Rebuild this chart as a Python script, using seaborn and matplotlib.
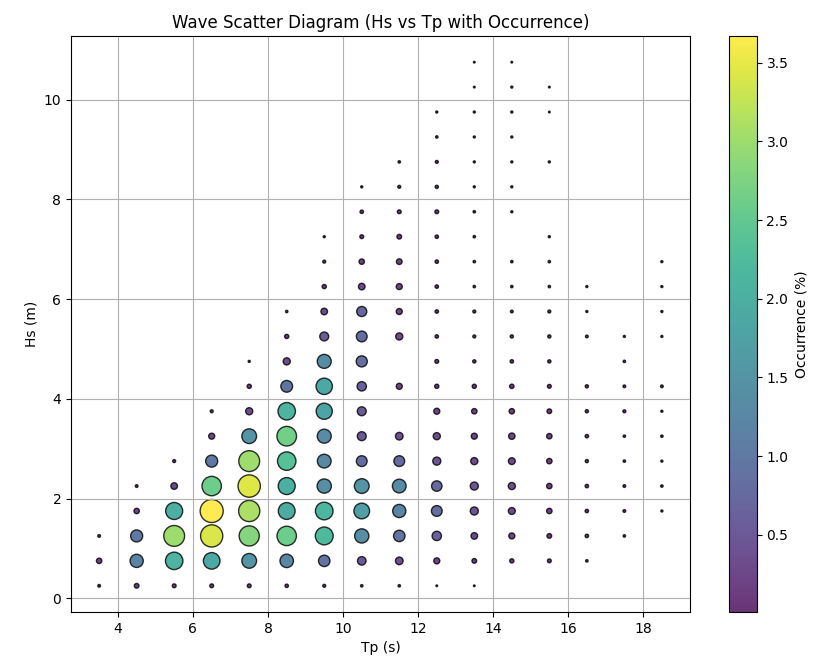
import numpy as np
import pandas as pd
import matplotlib
matplotlib.use("Agg")
import matplotlib.pyplot as plt
import seaborn as sns

# Bin centres
tp_bins = [3.5, 4.5, 5.5, 6.5, 7.5, 8.5, 9.5, 10.5, 11.5, 12.5, 13.5, 14.5, 15.5, 16.5, 17.5, 18.5]
hs_bins = [0.25, 0.75, 1.25, 1.75, 2.25, 2.75, 3.25, 3.75, 4.25, 4.75, 5.25,
           5.75, 6.25, 6.75, 7.25, 7.75, 8.25, 8.75, 9.25, 9.75, 10.25, 10.75]

# Occurrence (%) per Tp column, listed from Hs = 0.25 upwards (0 = empty bin)
occ_tp_03_5 = [0.05, 0.20, 0.05, 0, 0, 0, 0, 0, 0, 0, 0, 0, 0, 0, 0, 0, 0, 0, 0, 0, 0, 0]
occ_tp_04_5 = [0.15, 1.20, 1.00, 0.20, 0.05, 0, 0, 0, 0, 0, 0, 0, 0, 0, 0, 0, 0, 0, 0, 0, 0, 0]
occ_tp_05_5 = [0.10, 2.10, 3.00, 2.00, 0.30, 0.06, 0, 0, 0, 0, 0, 0, 0, 0, 0, 0, 0, 0, 0, 0, 0, 0]
occ_tp_06_5 = [0.10, 1.90, 3.40, 3.67, 2.60, 1.00, 0.25, 0.06, 0, 0, 0, 0, 0, 0, 0, 0, 0, 0, 0, 0, 0, 0]
occ_tp_07_5 = [0.10, 1.50, 2.80, 3.10, 3.45, 3.00, 1.50, 0.35, 0.12, 0.03, 0, 0, 0, 0, 0, 0, 0, 0, 0, 0, 0, 0]
occ_tp_08_5 = [0.08, 1.25, 2.60, 1.95, 2.00, 2.35, 2.65, 2.10, 0.95, 0.35, 0.12, 0.04, 0, 0, 0, 0, 0, 0, 0, 0, 0, 0]
occ_tp_09_5 = [0.06, 0.90, 2.20, 2.15, 1.40, 1.30, 1.35, 1.80, 1.85, 1.35, 0.55, 0.30, 0.12, 0.06, 0.03,
               0, 0, 0, 0, 0, 0, 0]
occ_tp_10_5 = [0.04, 0.50, 1.40, 1.70, 1.50, 0.80, 0.55, 0.55, 0.60, 0.85, 0.80, 0.70, 0.30, 0.20, 0.10,
               0.08, 0.03, 0, 0, 0, 0, 0]
occ_tp_11_5 = [0.04, 0.40, 0.90, 1.20, 1.30, 0.80, 0.40, 0, 0.25, 0, 0.35, 0.25, 0.25, 0.22, 0.15,
               0.10, 0.06, 0.04, 0, 0, 0, 0]
occ_tp_12_5 = [0.02, 0.25, 0.60, 0.80, 0.75, 0.45, 0.35, 0.25, 0.12, 0.10, 0.08, 0.08, 0.08, 0.08, 0.08,
               0.10, 0.07, 0.06, 0.04, 0.03, 0, 0]
occ_tp_13_5 = [0.02, 0.15, 0.30, 0.45, 0.45, 0.35, 0.25, 0.20, 0.12, 0.07, 0.06, 0.06, 0.04, 0.04, 0.04,
               0.04, 0.03, 0.03, 0.03, 0.03, 0.02, 0.02]
occ_tp_14_5 = [0, 0.12, 0.25, 0.33, 0.35, 0.32, 0.28, 0.20, 0.13, 0.08, 0.07, 0.05, 0.04, 0.04, 0,
               0.03, 0.03, 0.03, 0.03, 0.03, 0.03, 0.02]
occ_tp_15_5 = [0, 0.10, 0.15, 0.20, 0.20, 0.20, 0.20, 0.15, 0.10, 0.07, 0.07, 0.06, 0.04, 0.04, 0.03,
               0, 0, 0.03, 0, 0.02, 0.02, 0]
occ_tp_16_5 = [0, 0.04, 0.08, 0.08, 0.08, 0.07, 0.08, 0.07, 0.07, 0, 0.05, 0.03, 0.03, 0, 0,
               0, 0, 0, 0, 0, 0, 0]
occ_tp_17_5 = [0, 0, 0.04, 0.05, 0.05, 0.04, 0.04, 0.06, 0.05, 0.04, 0.03, 0, 0, 0, 0,
               0, 0, 0, 0, 0, 0, 0]
occ_tp_18_5 = [0, 0, 0, 0.03, 0.04, 0.03, 0.04, 0.03, 0.05, 0, 0.03, 0.03, 0.03, 0.03, 0,
               0, 0, 0, 0, 0, 0, 0]

columns = [occ_tp_03_5, occ_tp_04_5, occ_tp_05_5, occ_tp_06_5, occ_tp_07_5, occ_tp_08_5,
           occ_tp_09_5, occ_tp_10_5, occ_tp_11_5, occ_tp_12_5, occ_tp_13_5, occ_tp_14_5,
           occ_tp_15_5, occ_tp_16_5, occ_tp_17_5, occ_tp_18_5]

rows = []
for tp, col in zip(tp_bins, columns):
    for hs, occ in zip(hs_bins, col):
        if occ > 0:
            rows.append({"Tp": tp, "Hs": hs, "Occurrence": occ})
df = pd.DataFrame(rows)

vmin, vmax = 0.01, df["Occurrence"].max()
size_scale = 75.0

fig = plt.figure(figsize=(8.19, 6.70), dpi=100)
ax = fig.add_axes([0.0867, 0.0866, 0.7558, 0.8597])
cax = fig.add_axes([0.890, 0.0866, 0.034, 0.8597])

sns.scatterplot(
    data=df, x="Tp", y="Hs",
    hue="Occurrence", hue_norm=(vmin, vmax), palette="viridis",
    size="Occurrence", size_norm=(0, vmax), sizes=(0, vmax * size_scale),
    alpha=0.8, edgecolor="k", linewidth=1.0, legend=False, ax=ax,
)

ax.set_title("Wave Scatter Diagram (Hs vs Tp with Occurrence)", fontsize=12)
ax.set_xlabel("Tp (s)")
ax.set_ylabel("Hs (m)")
ax.grid(True)

sm = plt.cm.ScalarMappable(cmap="viridis", norm=plt.Normalize(vmin, vmax))
cbar = fig.colorbar(sm, cax=cax, alpha=0.8)
cbar.set_label("Occurrence (%)")

fig.savefig("out.png", dpi=100)
